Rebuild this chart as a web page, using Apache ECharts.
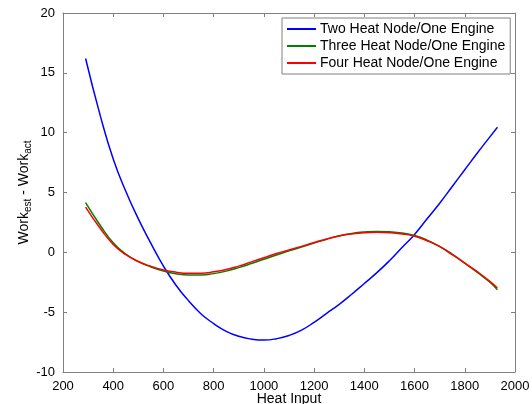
<!DOCTYPE html>
<html>
<head>
<meta charset="UTF-8">
<script src="https://cdn.jsdelivr.net/npm/echarts@6/dist/echarts.min.js"></script>
<style>html,body{margin:0;padding:0;background:#fff;}</style>
</head>
<body>
<div id="main" style="width:532px;height:404px;"></div>
<script>
// heat input values (x)
var heatInput = [290, 350, 400, 450, 500, 550, 600, 650, 700, 750, 800, 850, 900, 950, 1000,
    1050, 1100, 1150, 1200, 1250, 1300, 1350, 1400, 1450, 1500, 1550, 1600, 1650, 1700,
    1750, 1800, 1850, 1900, 1930];
var twoNode = [16.2, 11.3, 7.8, 5.1, 2.8, 0.75, -1.15, -2.75, -4.05, -5.15, -5.95, -6.6, -7.02, -7.25, -7.33,
    -7.22, -6.95, -6.5, -5.85, -5.1, -4.35, -3.5, -2.6, -1.7, -0.7, 0.4, 1.5, 2.8, 4.1,
    5.5, 6.9, 8.3, 9.65, 10.45];
var threeNode = [4.15, 2.2, 0.8, -0.14, -0.77, -1.22, -1.56, -1.79, -1.9, -1.9, -1.78, -1.57, -1.28, -0.94, -0.58,
    -0.22, 0.12, 0.45, 0.78, 1.1, 1.38, 1.58, 1.7, 1.75, 1.72, 1.62, 1.4, 1.02, 0.5,
    -0.15, -0.9, -1.68, -2.5, -3.12];
var fourNode = [3.78, 1.95, 0.66, -0.2, -0.77, -1.17, -1.47, -1.66, -1.75, -1.74, -1.63, -1.44, -1.15, -0.8, -0.45,
    -0.1, 0.2, 0.5, 0.82, 1.12, 1.37, 1.54, 1.64, 1.67, 1.64, 1.54, 1.35, 0.97, 0.47,
    -0.2, -0.9, -1.62, -2.42, -2.98];
var names = ['Two Heat Node/One Engine', 'Three Heat Node/One Engine', 'Four Heat Node/One Engine'];
var colors = ['#0000ff', '#008000', '#ff0000'];

function pairs(ys) {
    return heatInput.map(function (x, i) { return [x, ys[i]]; });
}

var axisGray = '#808080';
var font = 'Liberation Sans, Arial, sans-serif';

function plainAxis(extra) {
    var ax = {
        type: 'value',
        axisLine: { show: true, onZero: false, lineStyle: { color: axisGray } },
        axisTick: { inside: true, length: 4, lineStyle: { color: axisGray } },
        axisLabel: { color: '#000', fontSize: 13, fontFamily: font, formatter: function (v) { return String(v); } },
        splitLine: { show: false }
    };
    return Object.assign(ax, extra);
}

var chart = echarts.init(document.getElementById('main'));
var option = {
    animation: false,
    textStyle: { fontFamily: font },
    grid: { left: 63, right: 17, top: 13, bottom: 32, outerBoundsMode: 'none', containLabel: false },
    legend: {
        orient: 'vertical',
        left: 282,
        top: 18,
        padding: [4, 5, 4, 5],
        itemGap: 3,
        itemWidth: 29,
        itemHeight: 2,
        icon: 'rect',
        borderColor: axisGray,
        borderWidth: 1,
        backgroundColor: '#fff',
        textStyle: { color: '#000', fontSize: 14, fontFamily: font, padding: [0, 0, 0, -1] },
        data: names
    },
    xAxis: [plainAxis({
        min: 200, max: 2000, interval: 200,
        name: 'Heat Input', nameLocation: 'middle', nameGap: 20, nameMoveOverlap: false,
        nameTextStyle: { color: '#000', fontSize: 14, fontFamily: font, verticalAlign: 'top' }
    }), plainAxis({
        min: 200, max: 2000, interval: 200, position: 'top',
        axisLabel: { show: false }
    })],
    yAxis: [plainAxis({
        min: -10, max: 20, interval: 5,
        name: 'Work{sub|est} - Work{sub|act}', nameLocation: 'middle', nameGap: 30, nameRotate: 90,
        nameMoveOverlap: false,
        nameTextStyle: {
            color: '#000', fontSize: 14, fontFamily: font, verticalAlign: 'bottom',
            rich: { sub: { fontSize: 10, color: '#000', fontFamily: font, padding: [7, 0, 0, 0] } }
        }
    }), plainAxis({
        min: -10, max: 20, interval: 5, position: 'right',
        axisLabel: { show: false }
    })],
    series: [twoNode, threeNode, fourNode].map(function (ys, i) {
        return {
            name: names[i],
            type: 'line',
            smooth: true,
            showSymbol: false,
            color: colors[i],
            lineStyle: { width: 1.5, color: colors[i] },
            data: pairs(ys)
        };
    })
};
chart.setOption(option);
</script>
</body>
</html>
